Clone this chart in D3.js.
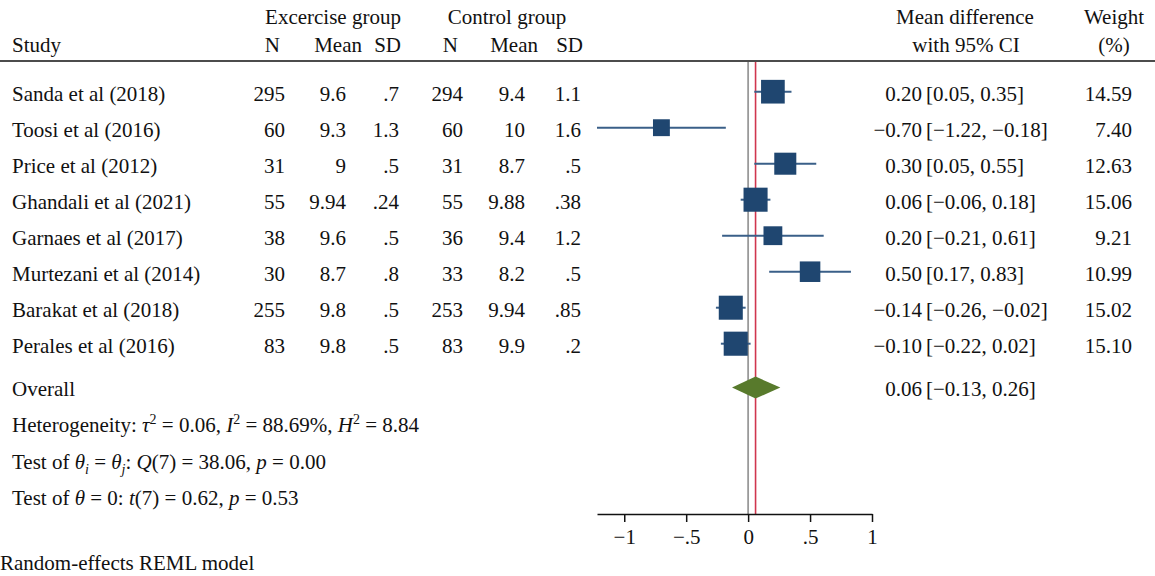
<!DOCTYPE html>
<html><head><meta charset="utf-8">
<script src="https://cdn.jsdelivr.net/npm/d3@7"></script>
<style>
html,body{margin:0;padding:0;background:#fff;}
svg text{font-family:"Liberation Serif","Times New Roman",serif;font-size:21px;fill:#111;}
</style></head>
<body><svg id="chart" width="1155" height="576"></svg>
<script>
const studies = ["Sanda et al (2018)","Toosi et al (2016)","Price et al (2012)","Ghandali et al (2021)","Garnaes et al (2017)","Murtezani et al (2014)","Barakat et al (2018)","Perales et al (2016)"];
const nExer   = ["295","60","31","55","38","30","255","83"];
const meanExer= ["9.6","9.3","9","9.94","9.6","8.7","9.8","9.8"];
const sdExer  = [".7","1.3",".5",".24",".5",".8",".5",".5"];
const nCtrl   = ["294","60","31","55","36","33","253","83"];
const meanCtrl= ["9.4","10","8.7","9.88","9.4","8.2","9.94","9.9"];
const sdCtrl  = ["1.1","1.6",".5",".38","1.2",".5",".85",".2"];
const meanDiff= [0.20,-0.70,0.30,0.06,0.20,0.50,-0.14,-0.10];
const ciLow   = [0.05,-1.22,0.05,-0.06,-0.21,0.17,-0.26,-0.22];
const ciHigh  = [0.35,-0.18,0.55,0.18,0.61,0.83,-0.02,0.02];
const weights = [14.59,7.40,12.63,15.06,9.21,10.99,15.02,15.10];
const overall = {est:0.06, lo:-0.13, hi:0.26};
const tickValues = [-1,-0.5,0,0.5,1];
const tickLabels = ["\u22121","\u2212.5","0",".5","1"];

const svg = d3.select("#chart");
const x = d3.scaleLinear().domain([-1.22,1]).range([597,872]);
const y = d3.scaleLinear().domain([0,1]).range([91.7,127.7]);
const overallIdx = 8.22;
const fmt2 = v => (v<0?"\u2212":"") + Math.abs(v).toFixed(2);

// header
const hdr = [
  {t:"Excercise group", x:333, y:24, a:"middle"},
  {t:"Control group", x:507, y:24, a:"middle"},
  {t:"Study", x:12, y:52, a:"start"},
  {t:"N", x:280, y:52, a:"end"},
  {t:"Mean", x:362, y:52, a:"end"},
  {t:"SD", x:401, y:52, a:"end"},
  {t:"N", x:458, y:52, a:"end"},
  {t:"Mean", x:538, y:52, a:"end"},
  {t:"SD", x:583, y:52, a:"end"},
  {t:"Mean difference", x:965, y:24, a:"middle"},
  {t:"with 95% CI", x:966, y:52, a:"middle"},
  {t:"Weight", x:1114, y:24, a:"middle"},
  {t:"(%)", x:1114, y:52, a:"middle"}
];
svg.selectAll("text.hdr").data(hdr).join("text").attr("class","hdr")
  .attr("x",d=>d.x).attr("y",d=>d.y).attr("text-anchor",d=>d.a).text(d=>d.t);
svg.append("line").attr("x1",0).attr("x2",1155).attr("y1",61).attr("y2",61)
  .attr("stroke","#111").attr("stroke-width",1.6);

// columns
const cols = [
  {vals:studies, x:12, a:"start"},
  {vals:nExer, x:285, a:"end"},
  {vals:meanExer, x:346, a:"end"},
  {vals:sdExer, x:399, a:"end"},
  {vals:nCtrl, x:463, a:"end"},
  {vals:meanCtrl, x:525, a:"end"},
  {vals:sdCtrl, x:581, a:"end"}
];
cols.forEach(c=>{
  svg.append("g").selectAll("text").data(c.vals).join("text")
    .attr("x",c.x).attr("y",(d,i)=>y(i)+9).attr("text-anchor",c.a).text(d=>d);
});
// CI text
const gci = svg.append("g");
meanDiff.forEach((m,i)=>{
  gci.append("text").attr("x",922).attr("y",y(i)+9).attr("text-anchor","end").text(fmt2(m));
  gci.append("text").attr("x",926).attr("y",y(i)+9).text("["+fmt2(ciLow[i])+", "+fmt2(ciHigh[i])+"]");
  gci.append("text").attr("x",1132).attr("y",y(i)+9).attr("text-anchor","end").text(weights[i].toFixed(2));
});
gci.append("text").attr("x",922).attr("y",y(overallIdx)+8).attr("text-anchor","end").text(fmt2(overall.est));
gci.append("text").attr("x",926).attr("y",y(overallIdx)+8).text("["+fmt2(overall.lo)+", "+fmt2(overall.hi)+"]");
svg.append("text").attr("x",12).attr("y",y(overallIdx)+8).text("Overall");

// stats lines
function rich(yv, parts){
  const t = svg.append("text").attr("x",12).attr("y",yv);
  parts.forEach(p=>{
    const s = t.append("tspan").text(p.t);
    if(p.i) s.attr("font-style","italic");
    if(p.sup){ s.attr("dy",-8).attr("font-size",14); }
    if(p.sub){ s.attr("dy",5).attr("font-size",14); }
    if(p.back) s.attr("dy",p.back);
  });
}
rich(432,[{t:"Heterogeneity: "},{t:"\u03c4",i:1},{t:"2",sup:1},{t:" = 0.06, ",back:8},{t:"I",i:1},{t:"2",sup:1},{t:" = 88.69%, ",back:8},{t:"H",i:1},{t:"2",sup:1},{t:" = 8.84",back:8}]);
rich(469,[{t:"Test of "},{t:"\u03b8",i:1},{t:"i",i:1,sub:1},{t:" = ",back:-5},{t:"\u03b8",i:1},{t:"j",i:1,sub:1},{t:": ",back:-5},{t:"Q",i:1},{t:"(7) = 38.06, "},{t:"p",i:1},{t:" = 0.00"}]);
rich(505,[{t:"Test of "},{t:"\u03b8",i:1},{t:" = 0: "},{t:"t",i:1},{t:"(7) = 0.62, "},{t:"p",i:1},{t:" = 0.53"}]);
svg.append("text").attr("x",0).attr("y",570).text("Random-effects REML model");

// reference lines
svg.append("line").attr("x1",x(0)).attr("x2",x(0)).attr("y1",62).attr("y2",514)
  .attr("stroke","#9a9a9a").attr("stroke-width",1.8);
svg.append("line").attr("x1",x(overall.est)).attr("x2",x(overall.est)).attr("y1",62).attr("y2",514)
  .attr("stroke","#d0364e").attr("stroke-width",1.6);

// CI lines & squares
const gm = svg.append("g");
gm.selectAll("line").data(meanDiff).join("line")
  .attr("x1",(d,i)=>x(ciLow[i])).attr("x2",(d,i)=>x(ciHigh[i]))
  .attr("y1",(d,i)=>y(i)).attr("y2",(d,i)=>y(i))
  .attr("stroke","#3a5f88").attr("stroke-width",2);
const side = w => 6.2*Math.sqrt(w);
gm.selectAll("rect").data(meanDiff).join("rect")
  .attr("x",(d,i)=>x(d)-side(weights[i])/2).attr("y",(d,i)=>y(i)-side(weights[i])/2)
  .attr("width",(d,i)=>side(weights[i])).attr("height",(d,i)=>side(weights[i]))
  .attr("fill","#1f4670");

// diamond
const yo = y(overallIdx);
svg.append("path").attr("d",
  `M${x(overall.lo)},${yo}L${x(overall.est)},${yo-11}L${x(overall.hi)},${yo}L${x(overall.est)},${yo+11}Z`)
  .attr("fill","#587a2c");

// axis
const ax = svg.append("g").attr("transform","translate(0,514)")
  .call(d3.axisBottom(x).tickValues(tickValues).tickFormat((d,i)=>tickLabels[i]).tickSize(8).tickSizeOuter(0).tickPadding(7));
ax.select(".domain").attr("stroke","#111").attr("stroke-width",1.5);
ax.selectAll(".tick line").attr("stroke","#111").attr("stroke-width",1.5);
ax.selectAll(".tick text").attr("font-family","Liberation Serif, serif").attr("font-size",21).attr("fill","#111");
</script></body></html>
